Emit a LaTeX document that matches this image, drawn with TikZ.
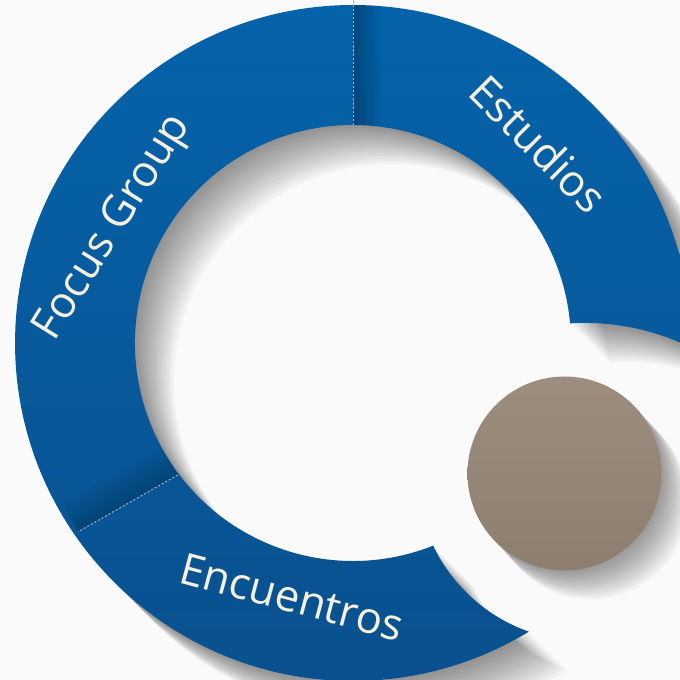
\documentclass[tikz,border=0pt]{standalone}
\usepackage{fontspec}
\setsansfont{Open Sans}
\usepackage{tikz}
\pgfdeclarelayer{background}
\pgfdeclarelayer{foreground}
\pgfsetlayers{background,main,foreground}

\definecolor{ringtop}{RGB}{5,99,170}
\definecolor{ringlow}{RGB}{10,80,142}
\definecolor{taupe}{RGB}{156,141,126}
\definecolor{taupedark}{RGB}{141,126,111}
\definecolor{labelcream}{RGB}{246,241,222}
\definecolor{seam}{RGB}{150,178,210}
\definecolor{pagegray}{RGB}{250,250,250}

% ring: outer r=338, inner r=218, both ends cut by arcs
\newcommand\ringpath{(691,332.4) arc[start angle=-0.78, end angle=301.35, radius=338]
  arc[start angle=250.7, end angle=205.4, radius=167]
  arc[start angle=291.6, end angle=5.16, radius=218]
  arc[start angle=93.5, end angle=63.9, radius=241] -- cycle}

\tikzset{
  ringlabel/.style={text=labelcream, font=\sffamily\fontsize{31}{36}\selectfont, inner sep=0pt},
  seamline/.style={seam, line width=0.7pt, dash pattern=on 1.6pt off 1.3pt},
}

\begin{document}
\begin{tikzpicture}[x=0.025cm,y=0.025cm]
\useasboundingbox (0,0) rectangle (680,680);
\begin{pgfonlayer}{background}
\fill[pagegray] (0,0) rectangle (680,680);
\foreach \k in {1,...,15}
  \fill[black, opacity=0.03, shift={(\k*2.6,-\k*2.6)}] \ringpath;
\foreach \k in {1,...,12}
  \fill[black, opacity=0.035] (564.5+\k*2.2, 206.5-\k*2.4) circle[radius=97];
\end{pgfonlayer}

\clip (0,0) rectangle (680,680);
\shade[top color=ringtop, bottom color=ringlow] \ringpath;
\shade[top color=taupe, bottom color=taupedark] (564.5,206.5) circle[radius=97];

% folds next to the seams
\coordinate (topin) at (353,555);
\coordinate (topout) at (353,680);
\coordinate (lowin) at (177.7,205);
\coordinate (lowout) at (78.3,148.3);
\begin{scope}
\clip \ringpath;
\foreach \k in {1,...,8}
  \fill[black, opacity=0.03] (353,550) rectangle (353+\k*3.5,680);
\foreach \k in {1,...,8}
  \fill[black, opacity=0.025] (lowin) -- (lowout) -- ([shift={(119.7:\k*4)}]lowout)
    -- ([shift={(119.7:\k*4)}]lowin) -- cycle;
\end{scope}

\begin{pgfonlayer}{foreground}
\draw[seamline] (topin) -- (topout);
\draw[seamline] (lowin) -- (lowout);
\node[ringlabel, rotate=-45] (estudios) at (539,536) {Estudios};
\node[ringlabel, rotate=58] (focus) at (114,452) {Focus Group};
\node[ringlabel, rotate=-15] (encuentros) at (292,83) {Encuentros};
\end{pgfonlayer}
\end{tikzpicture}
\end{document}
